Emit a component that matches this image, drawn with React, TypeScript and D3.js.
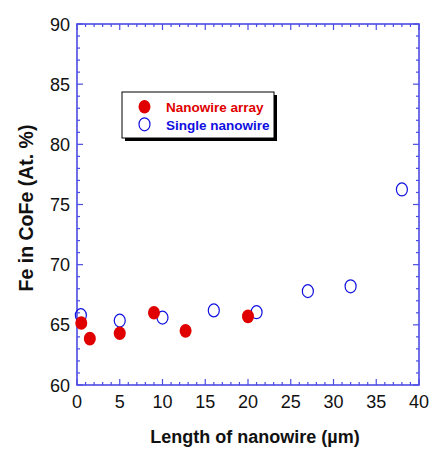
import React from "react";
import * as d3 from "d3";

const arrayX = [0.5, 1.5, 5, 9, 12.7, 20];
const arrayY = [65.15, 63.85, 64.3, 66.0, 64.5, 65.7];
const singleX = [0.45, 5, 10, 16, 21, 27, 32, 38];
const singleY = [65.8, 65.35, 65.6, 66.2, 66.05, 67.8, 68.2, 76.25];
const xTicks = [0, 5, 10, 15, 20, 25, 30, 35, 40];
const yTicks = [60, 65, 70, 75, 80, 85, 90];
const legendLabels = ["Nanowire array", "Single nanowire"];
const xTitle = "Length of nanowire (\u00b5m)";
const yTitle = "Fe in CoFe (At. %)";

const W = 431, H = 449;
const L = 77, R = 419, T = 24, B = 385;
const AX = "#4b4be4";
const RED = "#e00000";
const BLUE = "#1010e0";
const FONT = "Liberation Sans, Arial, sans-serif";

export default function App() {
  const x = d3.scaleLinear().domain([0, 40]).range([L, R]);
  const y = d3.scaleLinear().domain([60, 90]).range([B, T]);
  const xMinor = d3.range(0, 41, 1);
  const yMinor = d3.range(60, 91, 1);
  return (
    <svg width={W} height={H} style={{ position: "absolute", left: 0, top: 0, background: "#fff" }}>
      {xMinor.map((v) => {
        const len = v % 5 === 0 ? 6 : 3;
        return (
          <g key={"xt" + v} stroke={AX} strokeWidth={1.2}>
            <line x1={x(v)} x2={x(v)} y1={B} y2={B - len} />
            <line x1={x(v)} x2={x(v)} y1={T} y2={T + len} />
          </g>
        );
      })}
      {yMinor.map((v) => {
        const len = v % 5 === 0 ? 6 : 3;
        return (
          <g key={"yt" + v} stroke={AX} strokeWidth={1.2}>
            <line x1={L} x2={L + len} y1={y(v)} y2={y(v)} />
            <line x1={R} x2={R - len} y1={y(v)} y2={y(v)} />
          </g>
        );
      })}
      <rect x={L} y={T} width={R - L} height={B - T} fill="none" stroke={AX} strokeWidth={1.6} />
      {xTicks.map((v) => (
        <text key={"xl" + v} x={x(v)} y={408} textAnchor="middle" fontFamily={FONT} fontSize={18} fill="#111">
          {v}
        </text>
      ))}
      {yTicks.map((v) => (
        <text key={"yl" + v} x={70} y={y(v) + 6.5} textAnchor="end" fontFamily={FONT} fontSize={18} fill="#111">
          {v}
        </text>
      ))}
      <text x={255} y={443} textAnchor="middle" fontFamily={FONT} fontSize={18} fontWeight="bold" fill="#111">
        {xTitle}
      </text>
      <text transform={`translate(32.5,${208}) rotate(-90)`} textAnchor="middle" fontFamily={FONT} fontSize={19.5} fontWeight="bold" fill="#111">
        {yTitle}
      </text>
      {singleX.map((v, i) => (
        <ellipse key={"s" + i} cx={x(v)} cy={y(singleY[i])} rx={5.5} ry={6.5} fill="none" stroke={BLUE} strokeWidth={1.2} />
      ))}
      {arrayX.map((v, i) => (
        <ellipse key={"a" + i} cx={x(v)} cy={y(arrayY[i])} rx={6} ry={6.8} fill={RED} />
      ))}
      <rect x={125} y={95} width={152} height={46} fill="#000" />
      <rect x={122} y={92} width={152} height={46} fill="#fff" stroke="#000" strokeWidth={1} />
      <ellipse cx={144.5} cy={106.7} rx={6} ry={6.8} fill={RED} />
      <ellipse cx={144.5} cy={124.3} rx={5.5} ry={6.5} fill="none" stroke={BLUE} strokeWidth={1.2} />
      <text x={166} y={112} fontFamily={FONT} fontSize={13.5} fontWeight="bold" fill={RED}>
        {legendLabels[0]}
      </text>
      <text x={166} y={130} fontFamily={FONT} fontSize={13.5} fontWeight="bold" fill={BLUE}>
        {legendLabels[1]}
      </text>
    </svg>
  );
}
